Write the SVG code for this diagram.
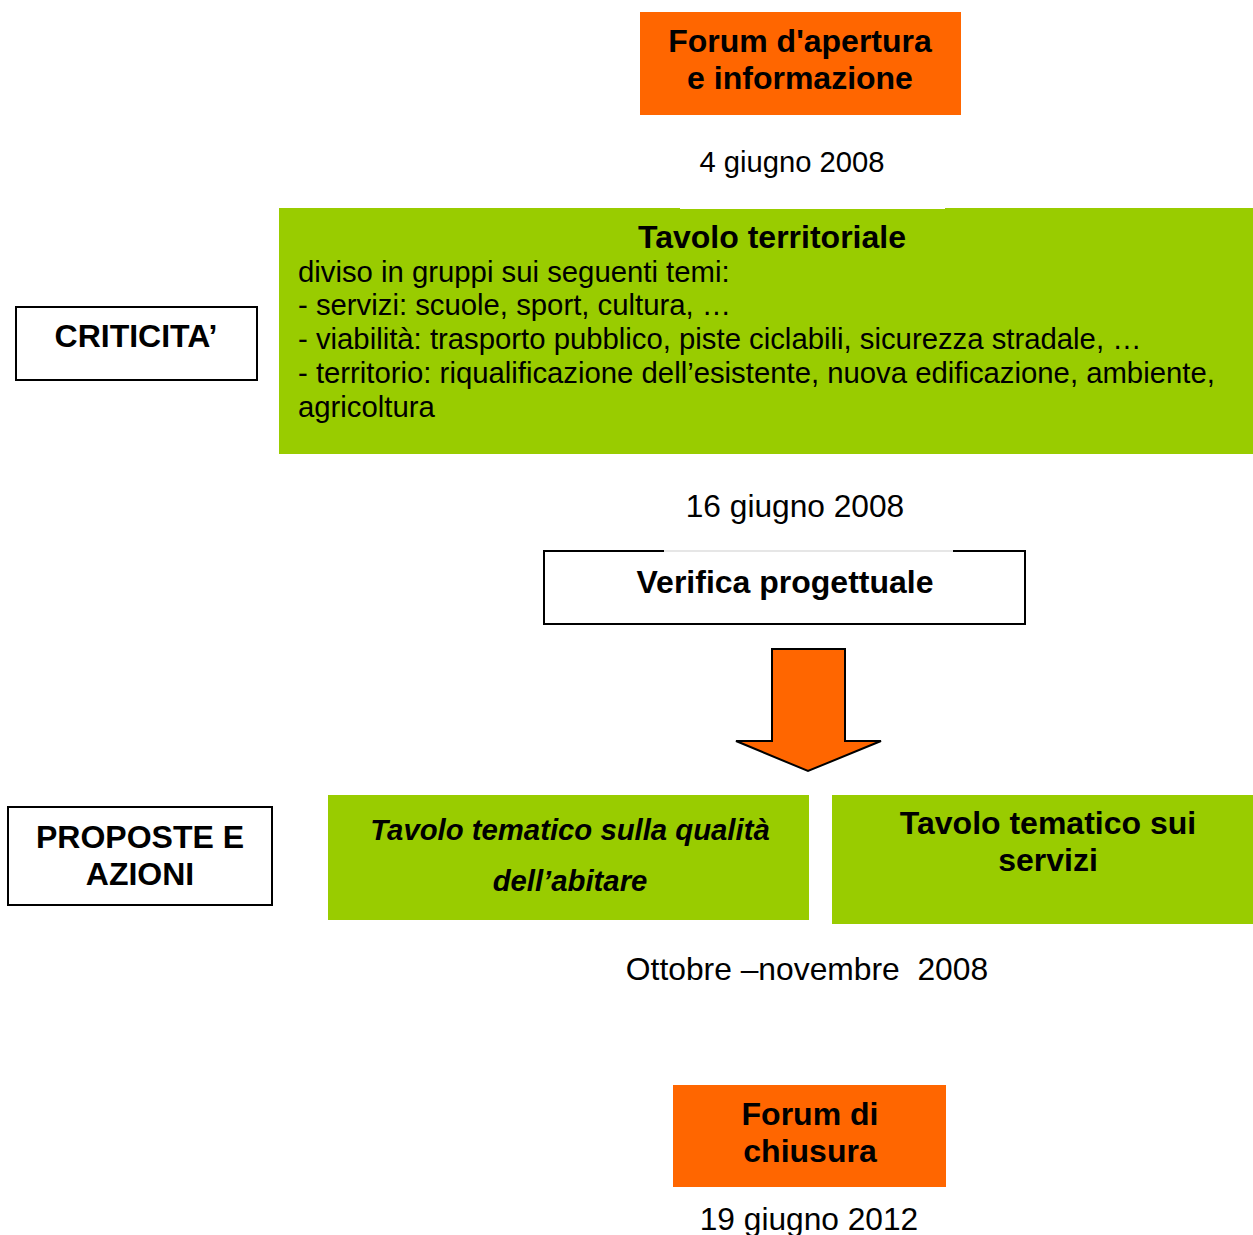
<svg xmlns="http://www.w3.org/2000/svg" width="1253" height="1235" viewBox="0 0 1253 1235">
<style>
text{font-family:"Liberation Sans",Arial,sans-serif;fill:#000}
.b{font-weight:bold}
.org{fill:#FF6600}
.grn{fill:#99CC00}
.frame{fill:#fff;stroke:#000;stroke-width:2}
.c{text-anchor:middle}
.body{font-size:29.3px}
</style>
<rect width="1253" height="1235" fill="#fff"/>
<g id="forum-apertura">
<rect class="org" x="640" y="12" width="321" height="103"/>
<text class="b c" x="800" y="52" font-size="32">Forum d'apertura</text>
<text class="b c" x="800" y="89" font-size="32">e informazione</text>
</g>
<g id="date-1"><text class="c" x="792" y="172" font-size="29.2">4 giugno 2008</text></g>
<g id="tavolo-territoriale">
<rect class="grn" x="279" y="208" width="974" height="246"/>
<rect x="680" y="207" width="265" height="2" fill="#fff"/>
<text class="b c" x="772" y="248" font-size="32">Tavolo territoriale</text>
<text class="body" x="298" y="282">diviso in gruppi sui seguenti temi:</text>
<text class="body" x="298" y="315">- servizi: scuole, sport, cultura, …</text>
<text class="body" x="298" y="349">- viabilità: trasporto pubblico, piste ciclabili, sicurezza stradale, …</text>
<text class="body" x="298" y="383">- territorio: riqualificazione dell’esistente, nuova edificazione, ambiente,</text>
<text class="body" x="298" y="417">agricoltura</text>
</g>
<g id="criticita">
<rect class="frame" x="16" y="307" width="241" height="73"/>
<text class="b c" x="136" y="347" font-size="32">CRITICITA’</text>
</g>
<g id="date-2"><text class="c" x="795" y="517" font-size="31.7">16 giugno 2008</text></g>
<g id="verifica">
<rect x="544" y="551" width="481" height="73" fill="#fff" stroke="#000" stroke-width="2"/>
<line x1="664" y1="551" x2="953" y2="551" stroke="#e6e6e6" stroke-width="2.2"/>
<text class="b c" x="785" y="593" font-size="32">Verifica progettuale</text>
</g>
<g id="connectors">
<path d="M772 649 H845 V741 H881 L808 771 L736 741 H772 Z" fill="#FF6600" stroke="#000" stroke-width="2" stroke-linejoin="miter"/>
</g>
<g id="proposte">
<rect class="frame" x="8" y="807" width="264" height="98"/>
<text class="b c" x="140" y="848" font-size="32">PROPOSTE E</text>
<text class="b c" x="140" y="885" font-size="32">AZIONI</text>
</g>
<g id="tavolo-abitare">
<rect class="grn" x="328" y="795" width="481" height="125"/>
<text class="b c" x="570" y="840" font-size="29.3" font-style="italic">Tavolo tematico sulla qualità</text>
<text class="b c" x="570" y="891" font-size="29.3" font-style="italic">dell’abitare</text>
</g>
<g id="tavolo-servizi">
<rect class="grn" x="832" y="795" width="421" height="129"/>
<text class="b c" x="1048" y="834" font-size="32">Tavolo tematico sui</text>
<text class="b c" x="1048" y="871" font-size="32">servizi</text>
</g>
<g id="date-3"><text class="c" x="807" y="980" font-size="31.8" xml:space="preserve">Ottobre –novembre  2008</text></g>
<g id="forum-chiusura">
<rect class="org" x="673" y="1085" width="273" height="102"/>
<text class="b c" x="810" y="1125" font-size="32">Forum di</text>
<text class="b c" x="810" y="1162" font-size="32">chiusura</text>
</g>
<g id="date-4"><text class="c" x="809" y="1230" font-size="31.7">19 giugno 2012</text></g>
</svg>
